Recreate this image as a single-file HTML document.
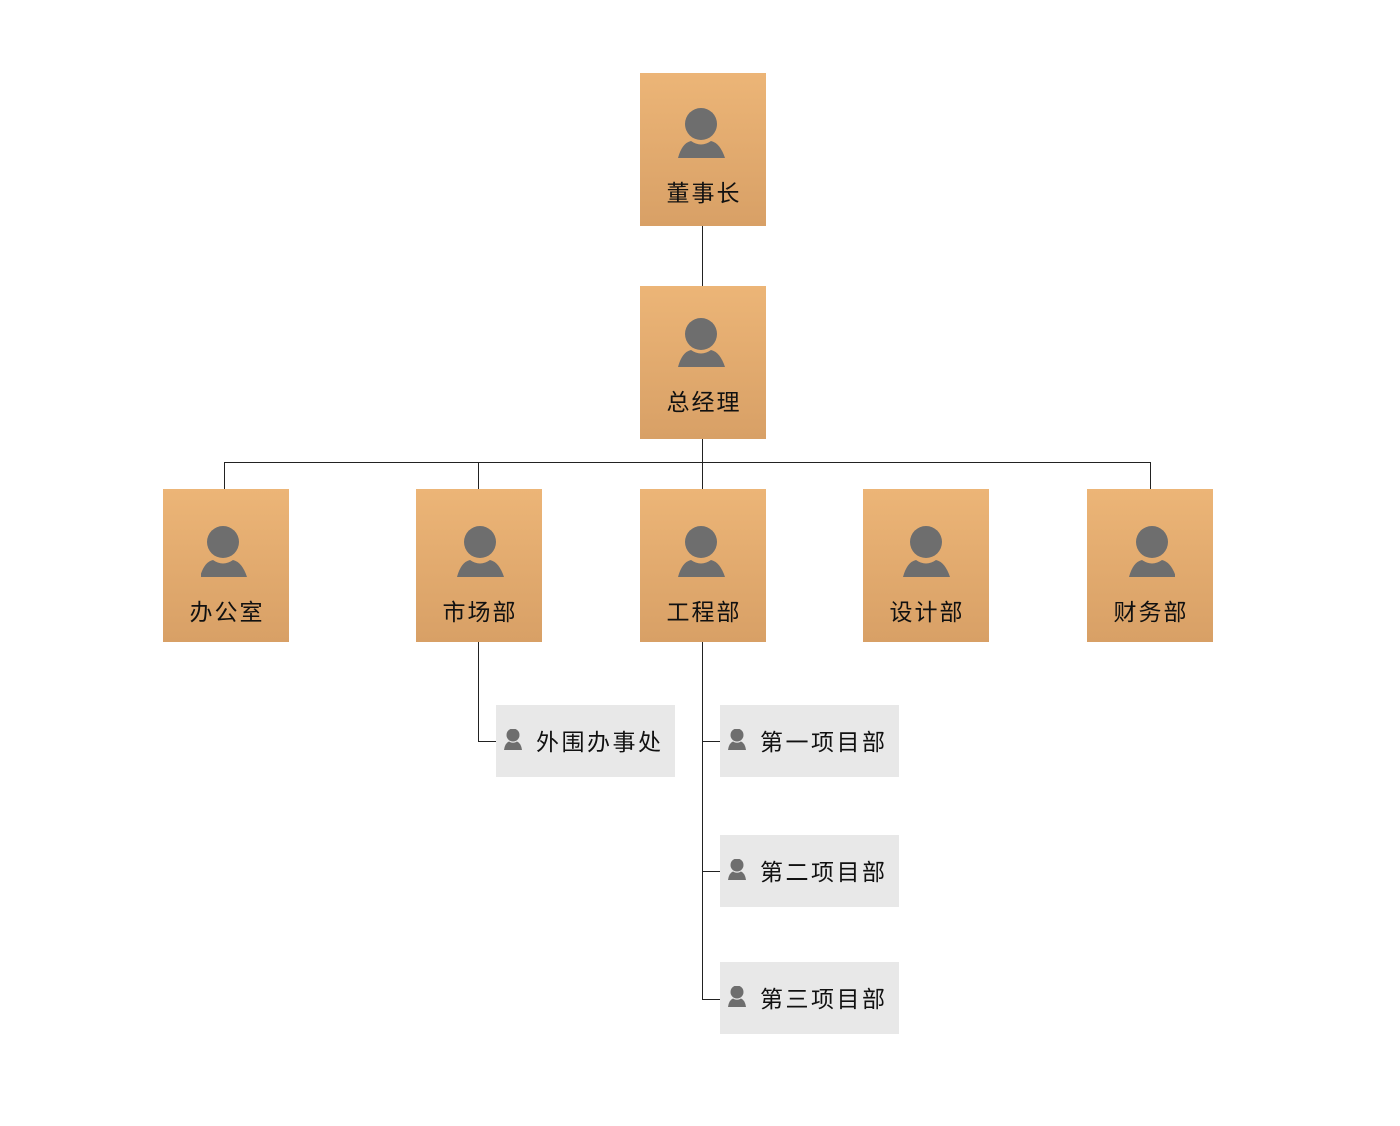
<!DOCTYPE html>
<html><head><meta charset="utf-8"><style>
body{margin:0;width:1400px;height:1126px;background:#fff;position:relative;font-family:"Liberation Sans","Noto Sans CJK SC",sans-serif;overflow:hidden}
.b{position:absolute;width:126px;height:153px;background:linear-gradient(#ecb577,#d8a066)}
.b svg{position:absolute;left:38px;top:34px}
.b span{position:absolute;left:0;right:0;top:101px;text-align:center;font-size:23px;color:#111;letter-spacing:2px;text-indent:2px}
.r span{top:104px}
.s{position:absolute;width:179px;height:72px;background:#e8e8e8}
.s svg{position:absolute;left:8px;top:24px}
.s span{position:absolute;left:40px;top:18px;font-size:23px;color:#111;letter-spacing:2.5px}
.l{position:absolute;background:#222}
</style></head><body>
<div class="l" style="left:702px;top:226px;width:1px;height:60px"></div>
<div class="l" style="left:702px;top:439px;width:1px;height:50px"></div>
<div class="l" style="left:224px;top:462px;width:927px;height:1px"></div>
<div class="l" style="left:224px;top:462px;width:1px;height:27px"></div>
<div class="l" style="left:478px;top:462px;width:1px;height:27px"></div>
<div class="l" style="left:1150px;top:462px;width:1px;height:27px"></div>
<div class="l" style="left:478px;top:642px;width:1px;height:99px"></div>
<div class="l" style="left:478px;top:741px;width:18px;height:1px"></div>
<div class="l" style="left:702px;top:642px;width:1px;height:358px"></div>
<div class="l" style="left:702px;top:741px;width:18px;height:1px"></div>
<div class="l" style="left:702px;top:871px;width:18px;height:1px"></div>
<div class="l" style="left:702px;top:999px;width:18px;height:1px"></div>

<div class="b" style="left:640px;top:73px"><svg width="50" height="56" viewBox="0 0 50 56"><circle cx="23" cy="17" r="16" fill="#6e6e6e"/><path d="M0 51 Q4 36 13 34 Q23 41 33 34 Q42 36 47 51Z" fill="#6e6e6e"/></svg><span>董事长</span></div>
<div class="b" style="left:640px;top:286px"><svg width="50" height="56" viewBox="0 0 50 56" style="top:31px"><circle cx="23" cy="17" r="16" fill="#6e6e6e"/><path d="M0 50 Q4 35 13 33 Q23 40 33 33 Q42 35 47 50Z" fill="#6e6e6e"/></svg><span style="top:97px">总经理</span></div>
<div class="b r" style="left:163px;top:489px"><svg width="50" height="56" viewBox="0 0 50 56"><circle cx="22" cy="19" r="16" fill="#6e6e6e"/><path d="M-1 54 Q3 39 12 37 Q22 44 32 37 Q41 39 46 54Z" fill="#6e6e6e"/></svg><span>办公室</span></div>
<div class="b r" style="left:416px;top:489px"><svg width="50" height="56" viewBox="0 0 50 56"><circle cx="26" cy="19" r="16" fill="#6e6e6e"/><path d="M3 54 Q7 39 16 37 Q26 44 36 37 Q45 39 50 54Z" fill="#6e6e6e"/></svg><span>市场部</span></div>
<div class="b r" style="left:640px;top:489px"><svg width="50" height="56" viewBox="0 0 50 56"><circle cx="23" cy="19" r="16" fill="#6e6e6e"/><path d="M0 54 Q4 39 13 37 Q23 44 33 37 Q42 39 47 54Z" fill="#6e6e6e"/></svg><span>工程部</span></div>
<div class="b r" style="left:863px;top:489px"><svg width="50" height="56" viewBox="0 0 50 56"><circle cx="25" cy="19" r="16" fill="#6e6e6e"/><path d="M2 54 Q6 39 15 37 Q25 44 35 37 Q44 39 49 54Z" fill="#6e6e6e"/></svg><span>设计部</span></div>
<div class="b r" style="left:1087px;top:489px"><svg width="50" height="56" viewBox="0 0 50 56"><circle cx="27" cy="19" r="16" fill="#6e6e6e"/><path d="M4 54 Q8 39 17 37 Q27 44 37 37 Q46 39 51 54Z" fill="#6e6e6e"/></svg><span>财务部</span></div>

<div class="s" style="left:496px;top:705px"><svg width="20" height="22" viewBox="0 0 20 22"><circle cx="9" cy="6" r="6.5" fill="#6e6e6e"/><path d="M0 21 Q1 14 5 12.5 Q9 15 13 12.5 Q17 14 18 21Z" fill="#6e6e6e"/></svg><span>外围办事处</span></div>
<div class="s" style="left:720px;top:705px"><svg width="20" height="22" viewBox="0 0 20 22"><circle cx="9" cy="6" r="6.5" fill="#6e6e6e"/><path d="M0 21 Q1 14 5 12.5 Q9 15 13 12.5 Q17 14 18 21Z" fill="#6e6e6e"/></svg><span>第一项目部</span></div>
<div class="s" style="left:720px;top:835px"><svg width="20" height="22" viewBox="0 0 20 22"><circle cx="9" cy="6" r="6.5" fill="#6e6e6e"/><path d="M0 21 Q1 14 5 12.5 Q9 15 13 12.5 Q17 14 18 21Z" fill="#6e6e6e"/></svg><span>第二项目部</span></div>
<div class="s" style="left:720px;top:962px"><svg width="20" height="22" viewBox="0 0 20 22"><circle cx="9" cy="6" r="6.5" fill="#6e6e6e"/><path d="M0 21 Q1 14 5 12.5 Q9 15 13 12.5 Q17 14 18 21Z" fill="#6e6e6e"/></svg><span>第三项目部</span></div>
</body></html>
